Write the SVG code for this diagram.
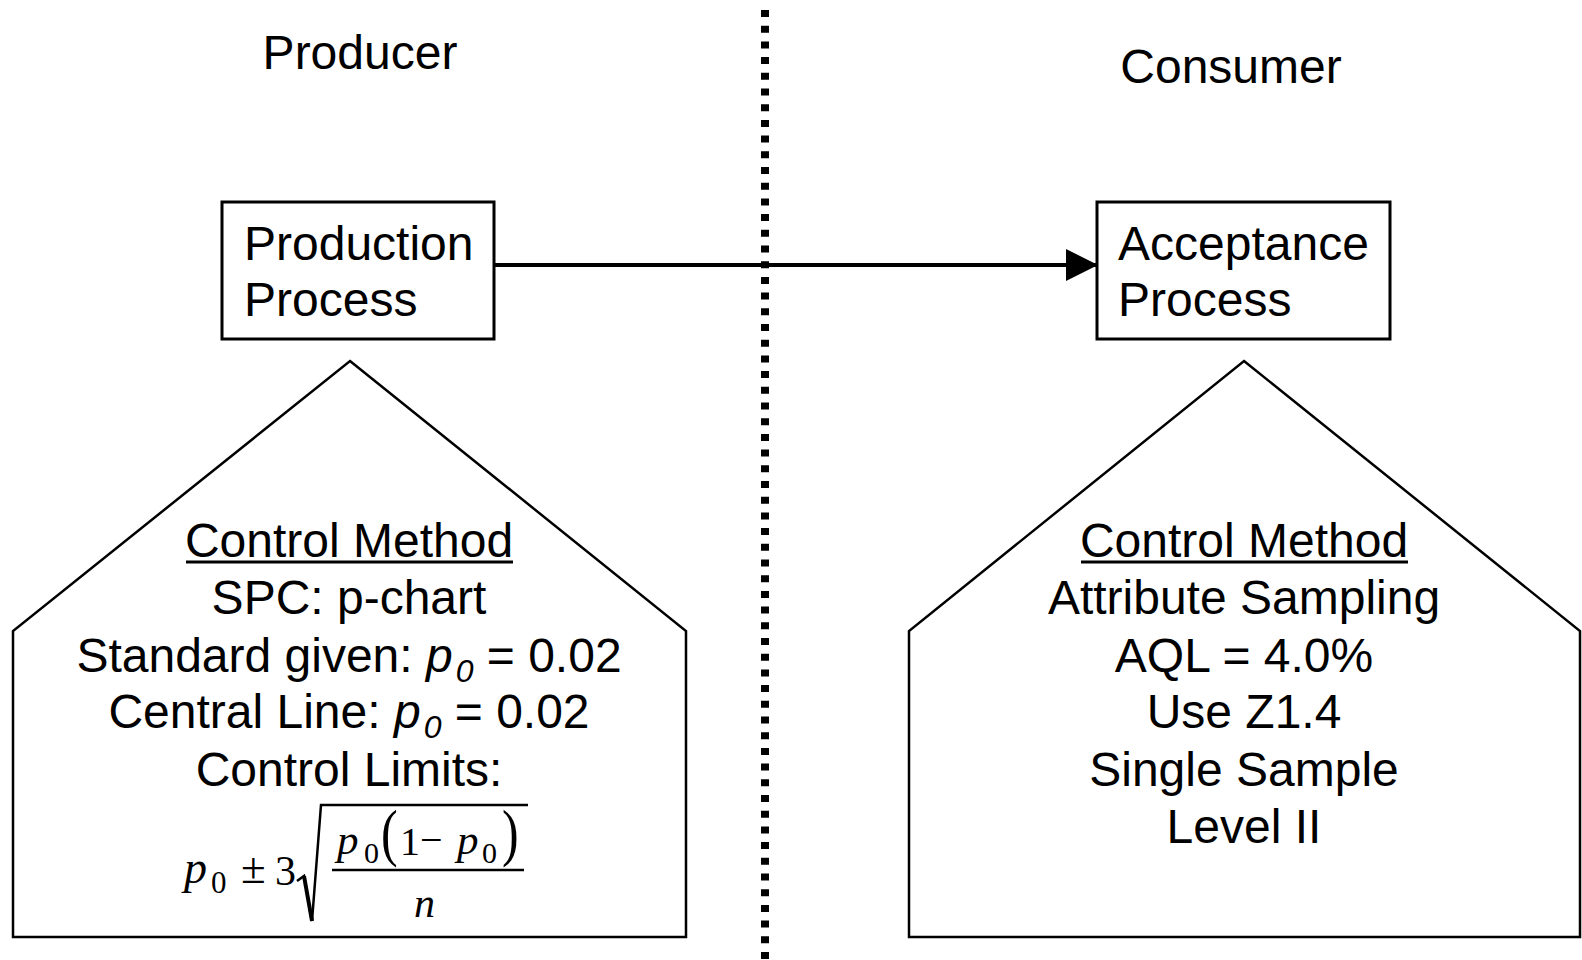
<svg xmlns="http://www.w3.org/2000/svg" width="1582" height="960" viewBox="0 0 1582 960">
<defs>
<style>
.t{font-family:"Liberation Sans",Arial,sans-serif;font-size:48px;fill:#000}
.m{text-anchor:middle}
.box{fill:#fff;stroke:#000;stroke-width:3}
.pent{fill:#fff;stroke:#000;stroke-width:2.5;stroke-linejoin:miter}
.f{font-family:"Liberation Serif","Times New Roman",serif;fill:#000}
.fi{font-style:italic}
</style>
<marker id="ah" markerWidth="8" markerHeight="8" refX="7" refY="3.5" orient="auto" markerUnits="strokeWidth" viewBox="0 0 7 7">
<path d="M0,0 L7,3.5 L0,7 Z" fill="#000"/>
</marker>
</defs>
<rect width="1582" height="960" fill="#fff"/>

<g id="divider">
<line x1="765" y1="10" x2="765" y2="960" stroke="#000" stroke-width="8" stroke-dasharray="7 8.7"/>
</g>

<g id="producer-label"><text class="t m" x="360" y="69">Producer</text></g>
<g id="consumer-label"><text class="t m" x="1231" y="83">Consumer</text></g>

<g id="production-process">
<rect class="box" x="222" y="202" width="272" height="137"/>
<text class="t" x="244" y="260">Production</text>
<text class="t" x="244" y="316">Process</text>
</g>

<g id="acceptance-process">
<rect class="box" x="1097" y="202" width="293" height="137"/>
<text class="t" x="1118" y="260">Acceptance</text>
<text class="t" x="1118" y="316">Process</text>
</g>

<g id="connectors">
<line x1="494" y1="265" x2="1098" y2="265" stroke="#000" stroke-width="4" marker-end="url(#ah)"/>
</g>

<g id="producer-control">
<polygon class="pent" points="350,361 686,631 686,937 13,937 13,631"/>
<text class="t m" x="349" y="557">Control Method</text>
<line x1="186" y1="562" x2="513" y2="562" stroke="#000" stroke-width="3"/>
<text class="t m" x="349" y="614">SPC: p-chart</text>
<text class="t m" x="349" y="672">Standard given: <tspan font-style="italic">p</tspan><tspan font-style="italic" font-size="32" dx="3" dy="10">0</tspan><tspan dy="-10"> = 0.02</tspan></text>
<text class="t m" x="349" y="728">Central Line: <tspan font-style="italic">p</tspan><tspan font-style="italic" font-size="32" dx="3" dy="10">0</tspan><tspan dy="-10"> = 0.02</tspan></text>
<text class="t m" x="349" y="786">Control Limits:</text>
<g id="formula">
<text class="f fi" x="184" y="883" style="font-size:46px">p</text>
<text class="f" x="211" y="893" style="font-size:31px">0</text>
<text class="f" x="241" y="883" style="font-size:45px">±</text>
<text class="f" x="275" y="885" style="font-size:42px">3</text>
<path d="M297,881 L304,876 L312,921 L321,805 L528,805" fill="none" stroke="#000" stroke-width="2.5" stroke-linejoin="miter"/>
<path d="M304,876 L312,921" fill="none" stroke="#000" stroke-width="4"/>
<line x1="332" y1="870" x2="524" y2="870" stroke="#000" stroke-width="2.5"/>
<text class="f fi" x="337" y="854" style="font-size:43px">p</text>
<text class="f" x="364" y="863" style="font-size:30px">0</text>
<text class="f" transform="translate(381,854) scale(1,1.28)" x="0" y="0" style="font-size:50px">(</text>
<text class="f" x="400" y="855" style="font-size:40px">1</text>
<text class="f" x="420" y="853" style="font-size:40px">−</text>
<text class="f fi" x="457" y="854" style="font-size:43px">p</text>
<text class="f" x="482" y="863" style="font-size:30px">0</text>
<text class="f" transform="translate(502,854) scale(1,1.28)" x="0" y="0" style="font-size:50px">)</text>
<text class="f fi" x="414" y="917" style="font-size:42px">n</text>
</g>
</g>

<g id="consumer-control">
<polygon class="pent" points="1244,361 1580,631 1580,937 909,937 909,631"/>
<text class="t m" x="1244" y="557">Control Method</text>
<line x1="1081" y1="562" x2="1408" y2="562" stroke="#000" stroke-width="3"/>
<text class="t m" x="1244" y="614">Attribute Sampling</text>
<text class="t m" x="1244" y="672">AQL = 4.0%</text>
<text class="t m" x="1244" y="728">Use Z1.4</text>
<text class="t m" x="1244" y="786">Single Sample</text>
<text class="t m" x="1244" y="843">Level II</text>
</g>
</svg>
